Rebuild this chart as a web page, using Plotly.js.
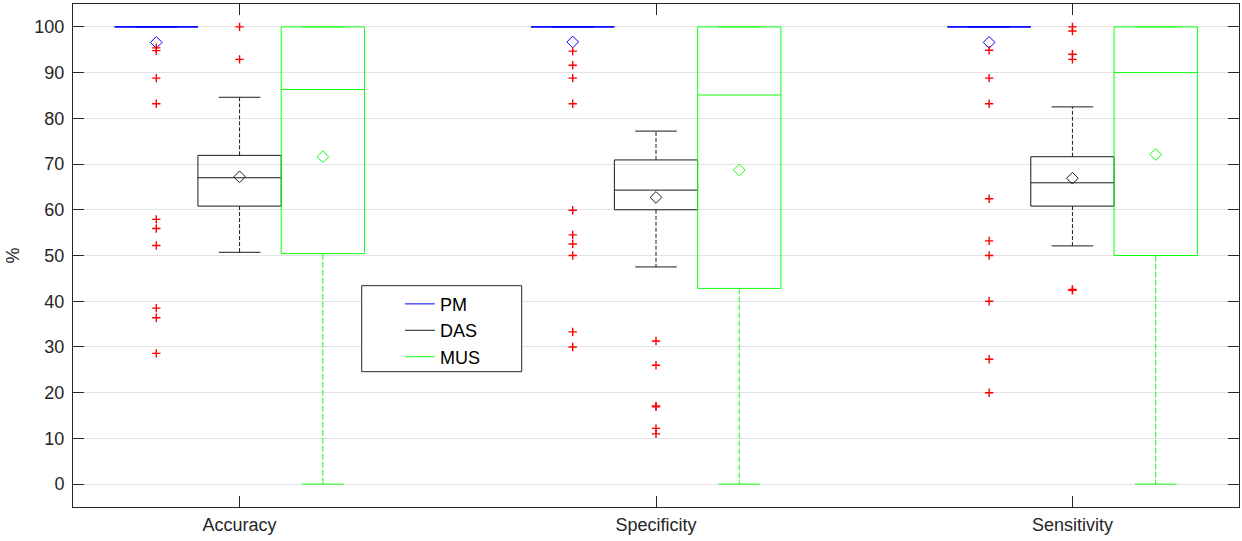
<!DOCTYPE html>
<html><head><meta charset="utf-8">
<script src="https://cdn.plot.ly/plotly-3.0.1.min.js"></script>
<style>html,body{margin:0;padding:0;background:#fff;}#chart{width:1242px;height:541px;}</style>
</head><body><div id="chart"></div>
<script>
// ---- data ----
const categories = ['Accuracy', 'Specificity', 'Sensitivity'];
const seriesNames = ['PM', 'DAS', 'MUS'];

// PM
const pmLowerWhisker = [100, 100, 100];
const pmQ1 = [100, 100, 100];
const pmMedian = [100, 100, 100];
const pmQ3 = [100, 100, 100];
const pmUpperWhisker = [100, 100, 100];
const pmMean = [96.6, 96.7, 96.6];
const pmOutliers = [
  [95.4, 94.8, 88.8, 83.2, 57.9, 55.9, 52.2, 38.5, 36.4, 28.6],
  [94.7, 91.6, 88.8, 83.2, 59.9, 54.5, 52.5, 50.0, 33.3, 30.0],
  [94.9, 88.8, 83.2, 62.4, 53.2, 50.0, 40.0, 27.3, 20.0]
];

// DAS
const dasLowerWhisker = [50.7, 47.5, 52.1];
const dasQ1 = [60.8, 60.0, 60.8];
const dasMedian = [67.0, 64.3, 65.9];
const dasQ3 = [71.9, 70.9, 71.6];
const dasUpperWhisker = [84.6, 77.2, 82.5];
const dasMean = [67.2, 62.7, 66.9];
const dasOutliers = [
  [100, 92.9],
  [31.3, 26.0, 17.1, 16.9, 12.2, 11.0],
  [100, 99.1, 94.0, 92.9, 42.6, 42.4]
];

// MUS
const musLowerWhisker = [0, 0, 0];
const musQ1 = [50.4, 42.8, 50.0];
const musMedian = [86.3, 85.1, 90.0];
const musQ3 = [100, 100, 100];
const musUpperWhisker = [100, 100, 100];
const musMean = [71.6, 68.7, 72.1];
const musOutliers = [[], [], []];

const yTickValues = [0, 10, 20, 30, 40, 50, 60, 70, 80, 90, 100];

// ---- layout helpers ----
const groupSpacing = 5, groupStart = 2, boxHalf = 0.5, capHalf = 0.25;
const groupCenters = categories.map((c, i) => groupStart + i * groupSpacing);

function buildSeries(name, color, offset, lw, q1, med, q3, uw, mean, outl, dash) {
  const pos = groupCenters.map(c => c + offset);
  const bx = [], by = [], wx = [], wy = [], cx = [], cy = [], ox = [], oy = [];
  pos.forEach((p, i) => {
    bx.push(p - boxHalf, p + boxHalf, p + boxHalf, p - boxHalf, p - boxHalf, null,
            p - boxHalf, p + boxHalf, null);
    by.push(q1[i], q1[i], q3[i], q3[i], q1[i], null, med[i], med[i], null);
    wx.push(p, p, null, p, p, null);
    wy.push(q3[i], uw[i], null, q1[i], lw[i], null);
    cx.push(p - capHalf, p + capHalf, null, p - capHalf, p + capHalf, null);
    cy.push(uw[i], uw[i], null, lw[i], lw[i], null);
    outl[i].forEach(v => { ox.push(p); oy.push(v); });
  });
  return [
    {type: 'scatter', mode: 'lines', x: wx, y: wy, line: {color: color, width: 1, dash: dash},
     hoverinfo: 'skip', showlegend: false, legendgroup: name},
    {type: 'scatter', mode: 'lines', x: cx, y: cy, line: {color: color, width: 1},
     hoverinfo: 'skip', showlegend: false, legendgroup: name},
    {type: 'scatter', mode: 'lines', x: bx, y: by, line: {color: color, width: 1},
     name: name, legendgroup: name, showlegend: true},
    {type: 'scatter', mode: 'markers', x: pos, y: mean,
     marker: {symbol: 'diamond-open', size: 9, color: color, line: {width: 1, color: color}},
     showlegend: false, legendgroup: name},
    {type: 'scatter', mode: 'markers', x: ox, y: oy,
     marker: {symbol: 'cross-thin-open', size: 6, color: '#ff0000', line: {width: 1.4, color: '#ff0000'}},
     showlegend: false, legendgroup: name}
  ];
}

const traces = [].concat(
  buildSeries(seriesNames[1], '#1a1a1a', 0, dasLowerWhisker, dasQ1, dasMedian, dasQ3, dasUpperWhisker, dasMean, dasOutliers, '4px,2px'),
  buildSeries(seriesNames[2], '#11ff11', 1, musLowerWhisker, musQ1, musMedian, musQ3, musUpperWhisker, musMean, musOutliers, '6px,2px'),
  buildSeries(seriesNames[0], '#0000ff', -1, pmLowerWhisker, pmQ1, pmMedian, pmQ3, pmUpperWhisker, pmMean, pmOutliers, '4px,2px')
);
const legendRank = {PM: 1, DAS: 2, MUS: 3};
traces.forEach(t => { t.legendrank = legendRank[t.legendgroup]; });

const axisColor = '#262626';
const layout = {
  width: 1242, height: 541,
  margin: {l: 73, r: 3, t: 4, b: 34, pad: 0},
  paper_bgcolor: '#ffffff', plot_bgcolor: '#ffffff',
  font: {family: '"Liberation Sans", Arial, sans-serif', size: 18, color: axisColor},
  xaxis: {
    range: [0, 14], tickvals: groupCenters, ticktext: categories,
    showgrid: false, zeroline: false, showline: true, linecolor: axisColor, linewidth: 1,
    mirror: 'allticks', ticks: 'inside', ticklen: 11, tickcolor: axisColor, tickwidth: 1,
    tickfont: {size: 18, color: axisColor}, ticklabelstandoff: 1, fixedrange: true
  },
  yaxis: {
    range: [-5, 105], tickvals: yTickValues,
    showgrid: true, gridcolor: '#e3e3e3', gridwidth: 1, zeroline: false,
    showline: true, linecolor: axisColor, linewidth: 1,
    mirror: 'allticks', ticks: 'inside', ticklen: 11, tickcolor: axisColor, tickwidth: 1,
    tickfont: {size: 18, color: axisColor}, ticklabelstandoff: 4,
    title: {text: '%', font: {size: 18, color: axisColor}, standoff: 10}, fixedrange: true
  },
  showlegend: true,
  legend: {
    x: 0.2804, y: 0.44, xanchor: 'left', yanchor: 'top',
    bgcolor: 'rgba(0,0,0,0)', borderwidth: 0, tracegroupgap: 0,
    traceorder: 'grouped', font: {size: 18, color: '#000000'}, itemwidth: 30
  },
  shapes: [{
    type: 'rect', xref: 'paper', yref: 'paper', layer: 'above',
    x0: 0.2476, x1: 0.3848, y0: 0.269, y1: 0.44,
    line: {color: axisColor, width: 1}, fillcolor: '#ffffff'
  }]
};

Plotly.newPlot('chart', traces, layout, {displayModeBar: false, staticPlot: true});
</script>
</body></html>
